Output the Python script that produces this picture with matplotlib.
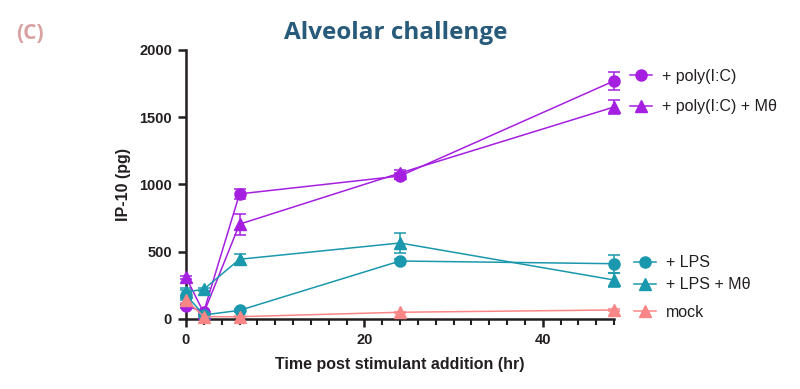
import matplotlib
matplotlib.use("Agg")
import matplotlib.pyplot as plt
from matplotlib.lines import Line2D
from matplotlib.ticker import MultipleLocator

plt.rcParams['font.family'] = ['Liberation Sans', 'DejaVu Sans']

# data (hr, pg)
time_hr = [0, 2, 6, 24, 48]

polyic = [97, 55, 930, 1063, 1770]
polyic_err = [15, 10, 37, 20, 70]
polyic_m = [310, 45, 705, 1085, 1576]
polyic_m_err = [10, 10, 78, 25, 55]
lps = [178, 30, 64, 431, 411]
lps_err = [40, 8, 10, 15, 67]
lps_m = [200, 221, 444, 565, 290]
lps_m_err = [30, 10, 40, 75, 50]
mock = [141, 17, 17, 50, 67]
mock_err = [25, 5, 5, 5, 5]

series_labels = ["+ poly(I:C)", "+ poly(I:C) + M\u03b8", "+ LPS", "+ LPS + M\u03b8", "mock"]

PURPLE = "#a51fe0"
TEAL = "#1a98ad"
SALMON = "#f98686"
INK = "#231f20"

fig = plt.figure(figsize=(8, 3.89), dpi=100)
ax = fig.add_axes([0.2325, 0.18, 0.535, 0.6915])

series = [
    (polyic, polyic_err, PURPLE, "o"),
    (polyic_m, polyic_m_err, PURPLE, "^"),
    (lps, lps_err, TEAL, "o"),
    (lps_m, lps_m_err, TEAL, "^"),
    (mock, mock_err, SALMON, "^"),
]

for vals, err, col, mk in series:
    ax.errorbar(time_hr, vals, yerr=err, color=col, marker=mk, markersize=8,
                lw=1.1, elinewidth=1.1, capsize=4, capthick=1.1, clip_on=False, zorder=3)

ax.set_xlim(0, 48)
ax.set_ylim(0, 2000)
ax.xaxis.set_major_locator(MultipleLocator(20))
ax.xaxis.set_minor_locator(MultipleLocator(2))
ax.yaxis.set_major_locator(MultipleLocator(500))

for side in ['top', 'right']:
    ax.spines[side].set_visible(False)
for side in ['left', 'bottom']:
    ax.spines[side].set_linewidth(1.8)
    ax.spines[side].set_color(INK)

ax.tick_params(which='major', length=6, width=1.8, color=INK, labelsize=10.5, pad=4)
ax.tick_params(which='minor', length=4, width=1.5, color=INK)
for lab in ax.get_xticklabels() + ax.get_yticklabels():
    lab.set_fontweight('bold')
    lab.set_color(INK)

ax.set_xlabel("Time post stimulant addition (hr)", fontsize=11.5, fontweight='bold', color=INK, labelpad=7)
ax.set_ylabel("IP-10 (pg)", fontsize=11.5, fontweight='bold', color=INK, labelpad=6)

fig.text(0.494, 0.915, "Alveolar challenge", ha='center', va='center', fontsize=17.5,
         fontweight='bold', color="#285a7a", family=['Open Sans', 'DejaVu Sans'])
fig.text(0.02, 0.915, "(C)", ha='left', va='center', fontsize=15, fontweight='bold',
         color="#d9a2a2", family=['Open Sans', 'DejaVu Sans'])

# legend entries, one per row, at the spots used in the figure
legend_x = [0.7875, 0.7875, 0.7925, 0.7925, 0.7925]
legend_y = [0.804, 0.725, 0.324, 0.268, 0.197]
for (vals, err, col, mk), lab, lx, ly in zip(series, series_labels, legend_x, legend_y):
    h = Line2D([], [], color=col, marker=mk, markersize=8, lw=1.1)
    leg = fig.legend([h], [lab], loc='center left', bbox_to_anchor=(lx, ly),
                     frameon=False, fontsize=11.5, handlelength=1.4, handletextpad=0.6,
                     borderpad=0, borderaxespad=0)
    for t in leg.get_texts():
        t.set_color(INK)

fig.savefig("out.png", dpi=100)
